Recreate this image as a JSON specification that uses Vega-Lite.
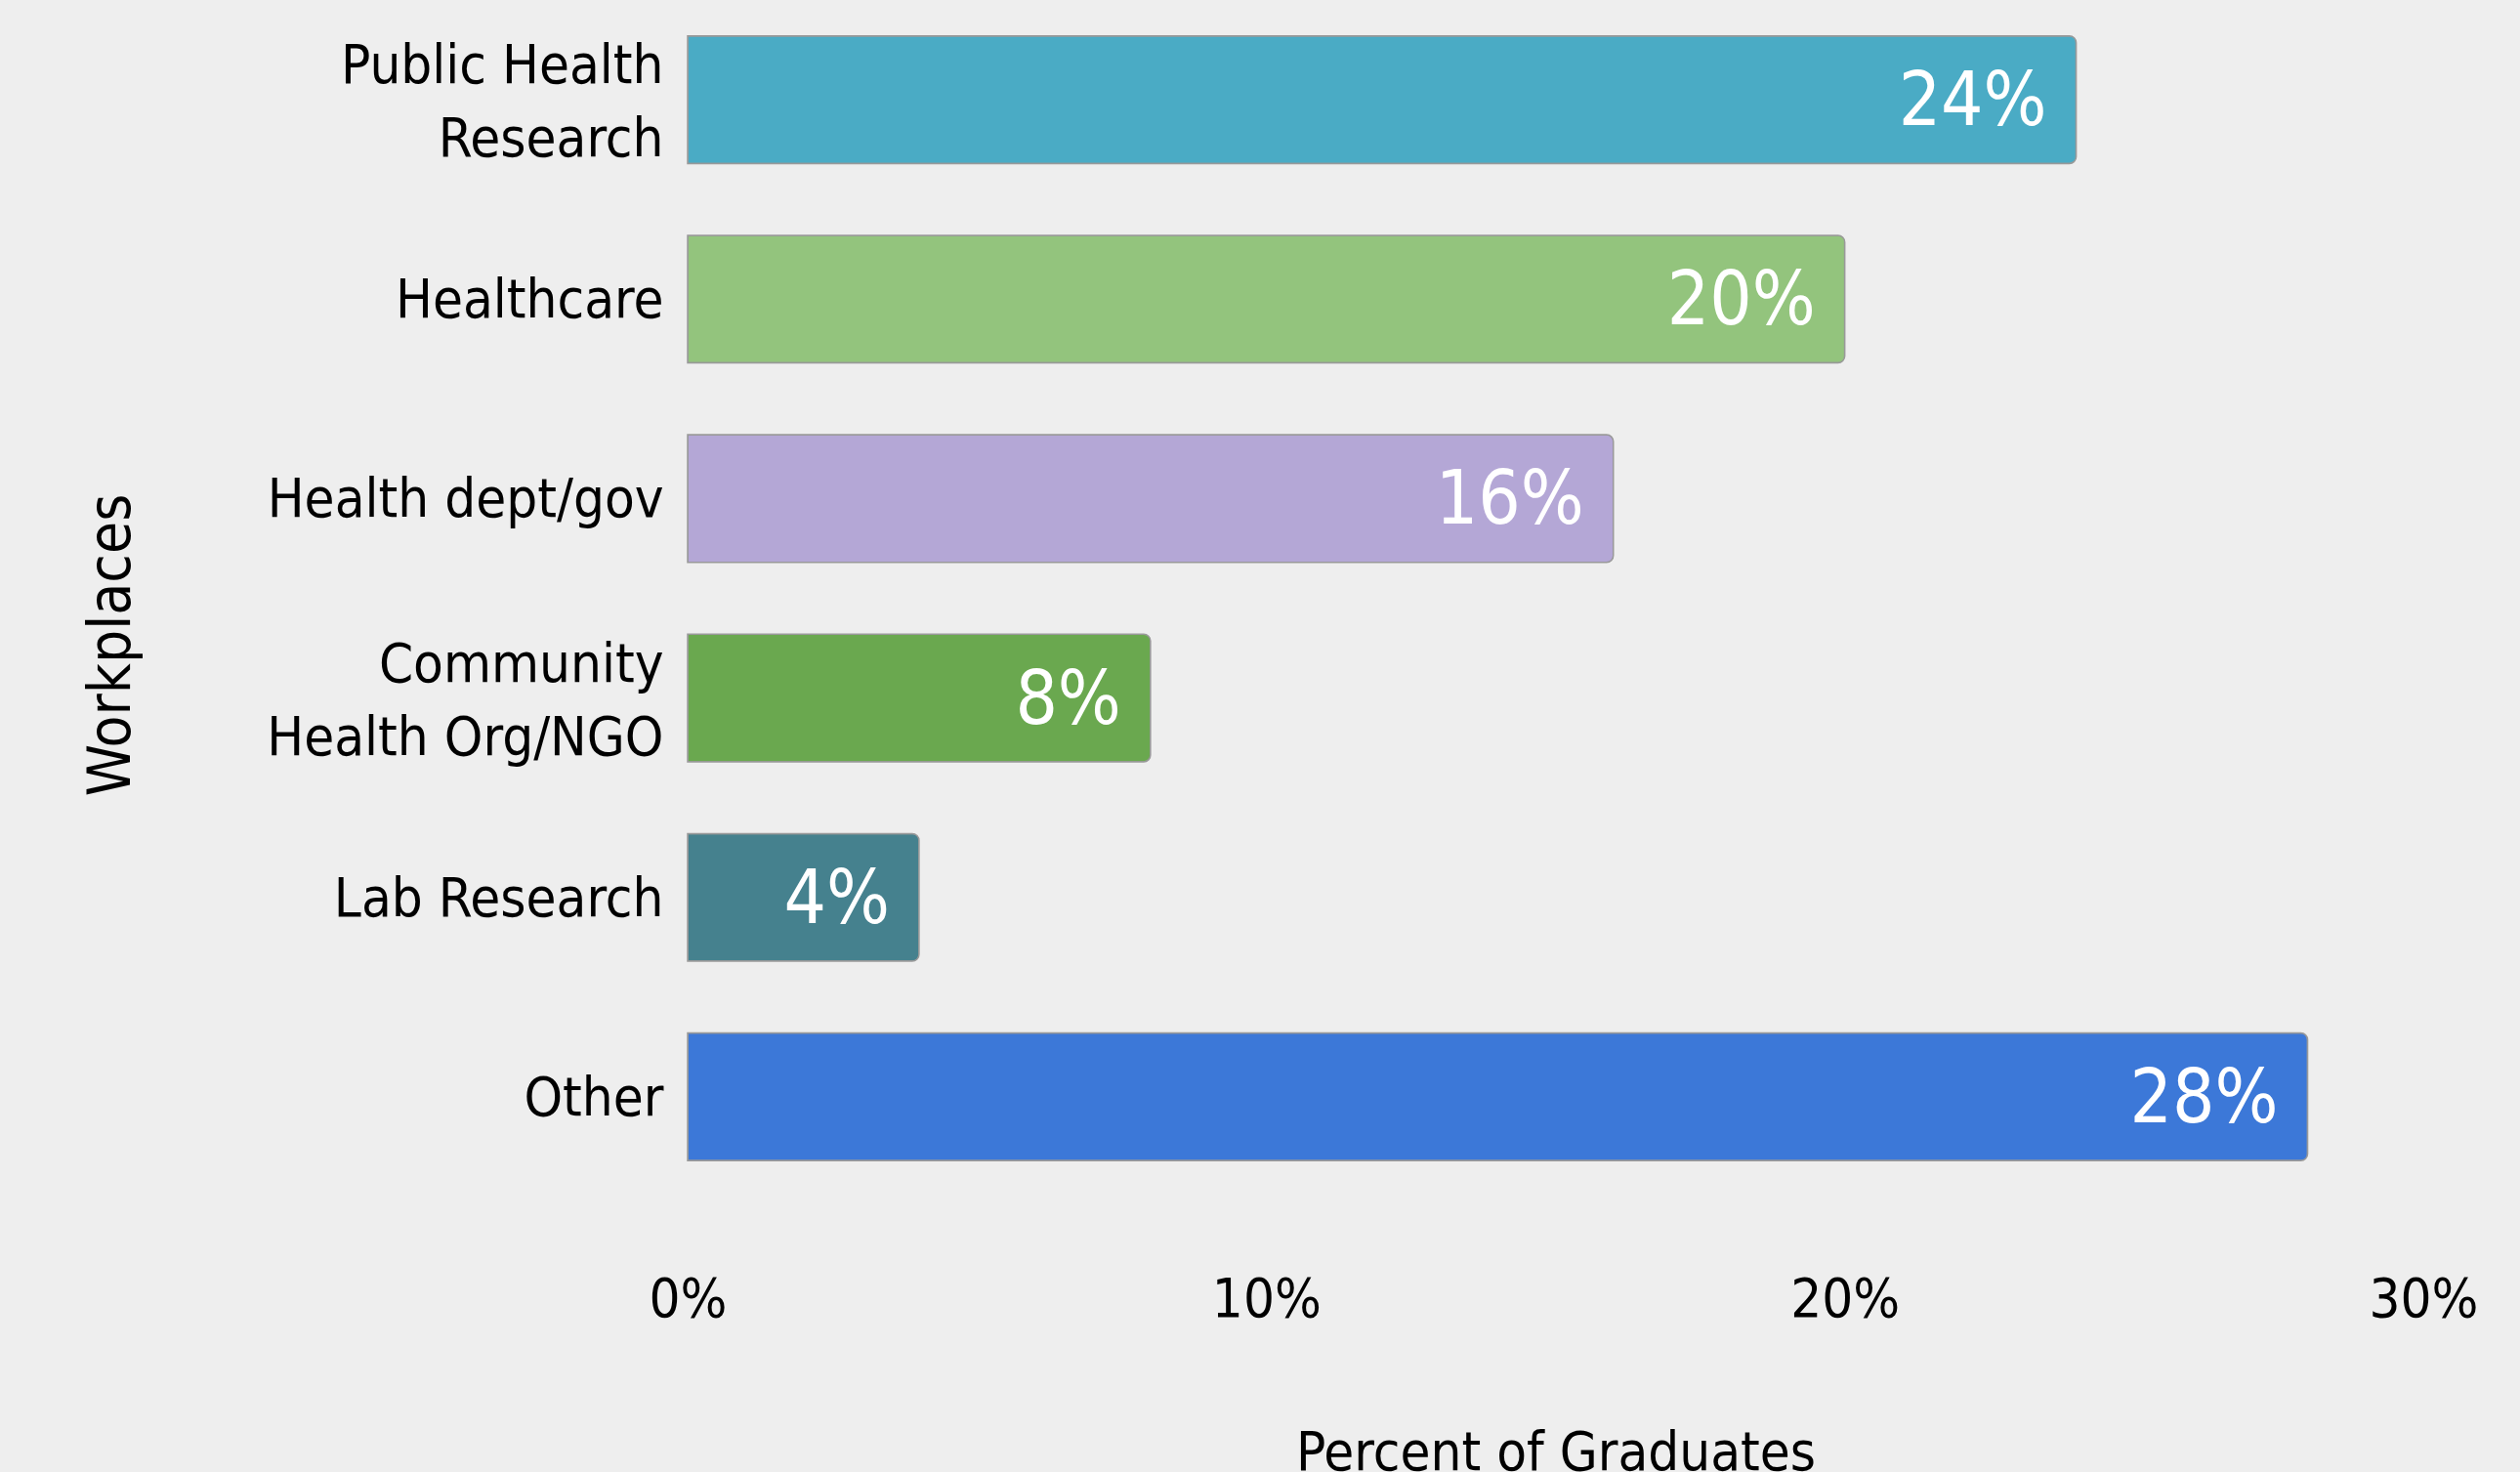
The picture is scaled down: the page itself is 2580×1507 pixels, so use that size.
{
  "$schema": "https://vega.github.io/schema/vega-lite/v6.json",
  "width": 1777,
  "height": 1225,
  "autosize": {"type": "none"},
  "padding": {"left": 704, "top": 0, "right": 99, "bottom": 282},
  "background": "#eeeeee",
  "config": {
    "view": {"stroke": null},
    "font": "DejaVu Sans Condensed"
  },
  "data": {
    "values": [
      {"workplace": "Public Health Research", "pct": 0.24},
      {"workplace": "Healthcare", "pct": 0.20},
      {"workplace": "Health dept/gov", "pct": 0.16},
      {"workplace": "Community Health Org/NGO", "pct": 0.08},
      {"workplace": "Lab Research", "pct": 0.04},
      {"workplace": "Other", "pct": 0.28}
    ]
  },
  "encoding": {
    "y": {
      "field": "workplace",
      "type": "nominal",
      "sort": ["Public Health Research", "Healthcare", "Health dept/gov", "Community Health Org/NGO", "Lab Research", "Other"],
      "scale": {"paddingInner": 0.36, "paddingOuter": 0.18},
      "axis": {
        "title": "Workplaces",
        "titleFont": "DejaVu Sans Condensed",
        "titleFontSize": 60,
        "titleFontWeight": "normal",
        "titleColor": "#000000",
        "titleX": -559,
        "titleY": 660,
        "domain": false,
        "ticks": false,
        "labelPadding": 25,
        "labelFont": "DejaVu Sans Condensed",
        "labelFontSize": 56,
        "labelColor": "#000000",
        "labelLimit": 1000,
        "labelLineHeight": 75,
        "labelOffset": {"condition": {"test": "datum.value == 'Public Health Research' || datum.value == 'Community Health Org/NGO'", "value": -34}, "value": 2},
        "labelExpr": "datum.value == 'Public Health Research' ? ['Public Health', 'Research'] : datum.value == 'Community Health Org/NGO' ? ['Community', 'Health Org/NGO'] : datum.value"
      }
    },
    "x": {
      "field": "pct",
      "type": "quantitative",
      "scale": {"domain": [0, 0.3], "nice": false},
      "axis": {
        "title": "Percent of Graduates",
        "titleFont": "DejaVu Sans Condensed",
        "titleFontSize": 56,
        "titleFontWeight": "normal",
        "titleColor": "#000000",
        "titleBaseline": "alphabetic",
        "titleY": 279,
        "format": ".0%",
        "values": [0, 0.1, 0.2, 0.3],
        "grid": false,
        "domain": false,
        "ticks": false,
        "labelPadding": 78,
        "labelFont": "DejaVu Sans Condensed",
        "labelFontSize": 56,
        "labelColor": "#000000",
        "labelFlush": false
      }
    }
  },
  "layer": [
    {
      "mark": {"type": "bar", "cornerRadiusEnd": 7, "stroke": "#999999", "strokeWidth": 1.5},
      "encoding": {
        "color": {
          "field": "workplace",
          "type": "nominal",
          "legend": null,
          "scale": {
            "domain": ["Public Health Research", "Healthcare", "Health dept/gov", "Community Health Org/NGO", "Lab Research", "Other"],
            "range": ["#4aabc5", "#93c47d", "#b4a7d6", "#6aa84f", "#45818e", "#3c78d8"]
          }
        }
      }
    },
    {
      "mark": {"type": "text", "align": "right", "baseline": "middle", "dx": -30, "dy": 3, "fontSize": 76, "font": "DejaVu Sans Condensed", "color": "#ffffff"},
      "encoding": {
        "text": {"field": "pct", "type": "quantitative", "format": ".0%"}
      }
    }
  ]
}
